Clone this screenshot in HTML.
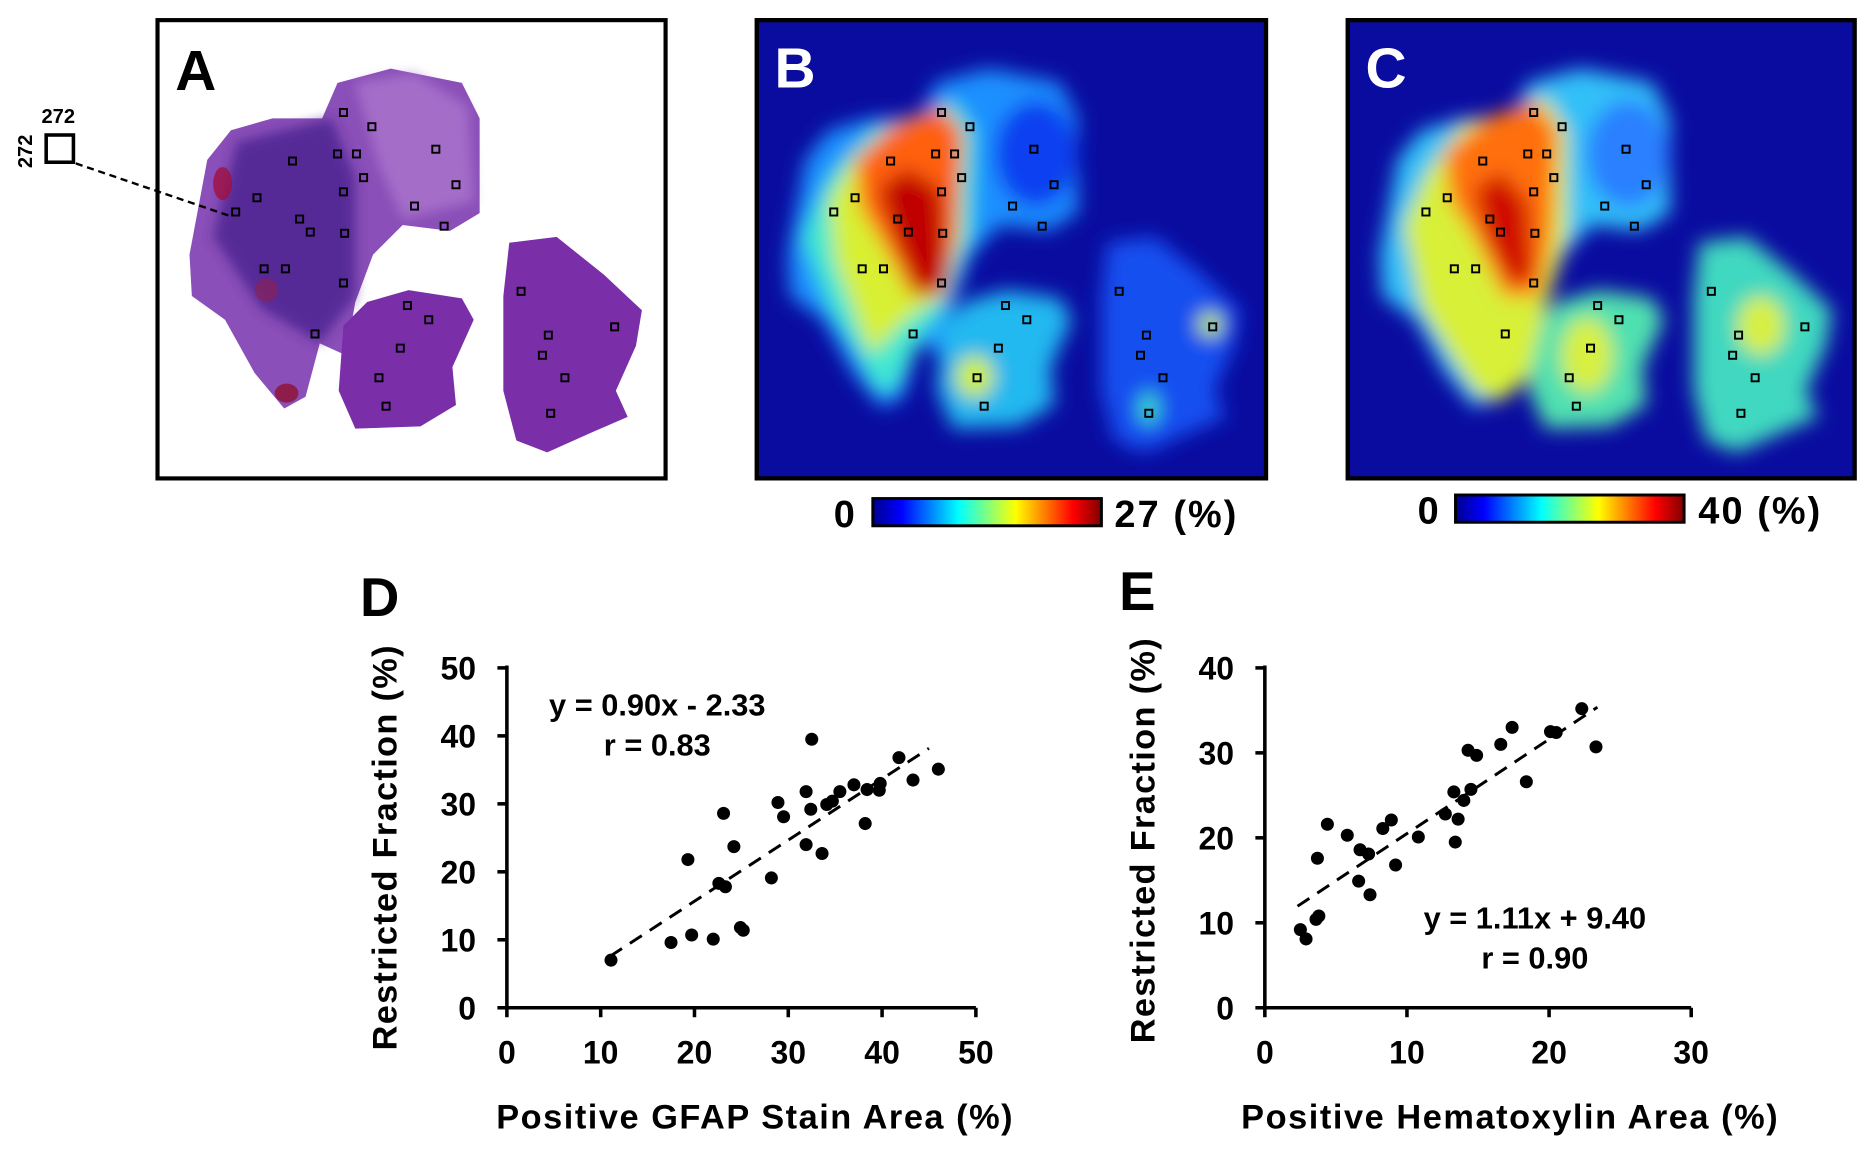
<!DOCTYPE html>
<html><head><meta charset="utf-8"><style>
html,body{margin:0;padding:0;background:#fff;}
svg{display:block;}
text{font-family:"Liberation Sans",Arial,sans-serif;font-weight:bold;}
</style></head><body>
<svg id="fig" width="1857" height="1161" viewBox="0 0 1568 980.4" preserveAspectRatio="none" xmlns="http://www.w3.org/2000/svg">
<defs>
<filter id="bl" x="-30%" y="-30%" width="160%" height="160%"><feGaussianBlur stdDeviation="8"/></filter>
<filter id="bl2" x="-30%" y="-30%" width="160%" height="160%"><feGaussianBlur stdDeviation="5"/></filter>
<linearGradient id="jet" x1="0" x2="1" y1="0" y2="0">
<stop offset="0" stop-color="#00008f"/><stop offset="0.125" stop-color="#0000ff"/><stop offset="0.375" stop-color="#00ffff"/><stop offset="0.625" stop-color="#ffff00"/><stop offset="0.875" stop-color="#ff0000"/><stop offset="1" stop-color="#800000"/>
</linearGradient>
<clipPath id="cB"><rect x="641" y="19" width="426" height="383"/></clipPath>
<clipPath id="cC"><rect x="1140" y="19" width="424" height="383"/></clipPath>
<g id="t1"><polygon points="160,215 175,135 195,110 230,100 272,100 285,70 330,58 350,62 390,70 405,100 405,180 380,195 340,190 315,215 300,255 292,300 270,290 258,335 240,345 215,315 190,270 162,250"/></g>
<g id="t2"><polygon points="290,275 310,255 345,245 390,252 400,270 382,310 385,342 355,360 300,362 286,330"/></g>
<g id="t3"><polygon points="430,205 470,200 510,232 542,262 537,292 520,330 530,352 500,365 462,382 436,372 425,330 425,250"/></g>
</defs>

<!-- Panel A -->
<g>
<rect x="133" y="17" width="429" height="387" fill="#fff" stroke="#000" stroke-width="3.5"/>
<g fill="#8a4fb8">
<use href="#t1"/><use href="#t2" fill="#7a2fa8"/><use href="#t3" fill="#7a2fa8"/>
</g>
<polygon points="200,120 280,100 300,150 300,250 270,290 220,260 180,200" fill="#4a2090" opacity="0.8" filter="url(#bl2)"/>
<polygon points="300,70 350,62 395,90 400,170 340,185 320,140" fill="#b07ad0" opacity="0.7" filter="url(#bl2)"/>
<ellipse cx="188" cy="155" rx="8" ry="14" fill="#a01040" opacity="0.8"/>
<ellipse cx="242" cy="332" rx="10" ry="8" fill="#901030" opacity="0.8"/>
<ellipse cx="225" cy="245" rx="10" ry="10" fill="#902050" opacity="0.6"/>
<text x="148" y="76" font-size="48" fill="#000">A</text>
<text x="35" y="104" font-size="17" fill="#000">272</text>
<text x="0" y="0" font-size="17" fill="#000" transform="translate(27,142) rotate(-90)">272</text>
<rect x="39" y="114" width="23" height="23" fill="none" stroke="#000" stroke-width="3"/>
<line x1="64" y1="138" x2="196" y2="183" stroke="#000" stroke-width="2" stroke-dasharray="6,4"/>
<g id="mA"></g>
</g>

<!-- Panel B -->
<g>
<rect x="639" y="17" width="430" height="387" fill="#0a0ca0" stroke="#000" stroke-width="3.5"/>
<g clip-path="url(#cB)">
<g transform="translate(505,0)" filter="url(#bl)">
<use href="#t1" fill="#1e90ff"/><use href="#t2" fill="#20b8f0"/><use href="#t3" fill="#1450f0"/>
<polygon points="172,200 195,150 230,110 275,95 300,85 318,110 315,200 295,255 270,290 250,330 235,330 220,300 195,260" fill="#40e8d0"/>
<polygon points="195,170 215,135 245,110 285,95 305,110 305,200 290,250 260,270 230,300 215,260 200,220" fill="#d8f030"/>
<polygon points="218,135 250,105 290,90 308,112 303,200 293,250 265,250 240,205 222,175" fill="#ff6010"/>
<polygon points="237,160 260,142 290,160 295,240 270,250 250,200" fill="#c00000"/>
<ellipse cx="318" cy="318" rx="16" ry="18" fill="#d0f030"/>
<ellipse cx="517" cy="274" rx="10" ry="10" fill="#c0f040"/>
<ellipse cx="465" cy="345" rx="8" ry="14" fill="#40e0c0"/>
<ellipse cx="370" cy="130" rx="35" ry="45" fill="#1040f0"/>
</g></g>
<rect x="639" y="17" width="430" height="387" fill="none" stroke="#000" stroke-width="3.5"/>
<text x="654" y="74" font-size="48" fill="#fff">B</text>
<g id="mB"></g>
</g>

<!-- Panel C -->
<g>
<rect x="1138" y="17" width="428" height="387" fill="#0a0ca0" stroke="#000" stroke-width="3.5"/>
<g clip-path="url(#cC)">
<g transform="translate(1005,0)" filter="url(#bl)">
<use href="#t1" fill="#30c0f8"/><use href="#t2" fill="#50e0b0"/><use href="#t3" fill="#40d8c0"/>
<polygon points="180,190 200,145 230,105 275,92 300,82 318,110 318,200 300,260 285,320 260,340 240,330 220,300 195,260" fill="#d8f038"/>
<polygon points="215,130 250,100 290,85 310,110 305,200 295,250 265,250 240,200 220,170" fill="#ff7010"/>
<polygon points="240,160 262,145 285,170 290,235 270,240 250,200" fill="#d01000"/>
<ellipse cx="335" cy="300" rx="22" ry="32" fill="#d8f040"/>
<ellipse cx="482" cy="275" rx="20" ry="25" fill="#d8f040"/>
<ellipse cx="370" cy="130" rx="35" ry="45" fill="#2a80ff"/>
</g></g>
<rect x="1138" y="17" width="428" height="387" fill="none" stroke="#000" stroke-width="3.5"/>
<text x="1153" y="74" font-size="48" fill="#fff">C</text>
<g id="mC"></g>
</g>

<!-- Colorbars -->
<g>
<rect x="737" y="421" width="193" height="23" fill="url(#jet)" stroke="#000" stroke-width="2.5"/>
<text x="704" y="445" font-size="32" fill="#000">0</text>
<text x="941" y="445" font-size="32" textLength="103" fill="#000">27 (%)</text>
</g>
<g>
<rect x="1229" y="418" width="193" height="23" fill="url(#jet)" stroke="#000" stroke-width="2.5"/>
<text x="1197" y="442" font-size="32" fill="#000">0</text>
<text x="1434" y="442" font-size="32" textLength="103" fill="#000">40 (%)</text>
</g>

<text x="304" y="520" font-size="46" fill="#000">D</text>
<text x="945" y="515" font-size="46" fill="#000">E</text>
<g id="chartD"></g>
<g id="chartE"></g>
</svg>
<script>
const NS="http://www.w3.org/2000/svg";
// Chart D data
const dX=[11.1,17.5,19.7,22.0,19.3,23.1,22.6,23.3,24.2,24.9,25.2,28.2,28.9,29.5,31.9,32.5,32.4,31.9,33.6,34.1,34.7,35.5,37.0,38.2,38.4,39.8,39.7,41.8,43.3,46.0];
const dY=[7.0,9.6,10.7,10.1,21.8,28.6,18.3,17.8,23.7,11.8,11.4,19.1,30.2,28.1,31.8,39.5,29.2,24.0,22.7,29.9,30.4,31.8,32.8,27.1,32.1,33.0,32.0,36.8,33.5,35.1];
const dTicksX=[0,10,20,30,40,50];
const dTicksY=[0,10,20,30,40,50];
const dFit=[0.90,-2.33];
const dFitRange=[11,45];
// Chart E data
const eX=[2.5,2.9,3.6,3.8,3.7,4.4,5.8,6.7,7.3,6.6,7.4,8.3,8.9,9.2,10.8,12.7,13.6,13.3,13.4,14.0,14.3,14.9,14.5,16.6,17.4,18.4,20.1,20.5,22.3,23.3];
const eY=[9.2,8.1,10.4,10.8,17.6,21.6,20.3,18.6,18.1,14.9,13.3,21.1,22.1,16.8,20.1,22.8,22.2,25.4,19.5,24.4,30.3,29.7,25.7,31.0,33.0,26.6,32.5,32.4,35.2,30.7];
const eTicksX=[0,10,20,30];
const eTicksY=[0,10,20,30,40];
const eFit=[1.11,9.40];
const eFitRange=[2.3,23.4];
// panel markers (shared positions relative to panel A)
const mkX=[290,314,368,247,285,301,307,290,385,350,217,199,253,262,291,375,223,241,290,266,344,362,338,320,326,440,463,458,477,519,465];
const mkY=[95,107,126,136,130,130,150,162,156,174,167,179,185,196,197,191,227,227,239,282,258,270,294,319,343,246,283,300,319,276,349];

function mk(tag,attrs,parent){const e=document.createElementNS(NS,tag);for(const k in attrs)e.setAttribute(k,attrs[k]);parent.appendChild(e);return e;}
[['mA',0,'#000'],['mB',505,'#000'],['mC',1005,'#000']].forEach(([id,off,col])=>{
  const g=document.getElementById(id);
  for(let i=0;i<mkX.length;i++){
    const r=mk('rect',{x:mkX[i]+off-3,y:mkY[i]-3,width:6,height:6,fill:'none',stroke:col,'stroke-width':1.6},g);
    
    
  }
});

function chart(id,xs,ys,tx,ty,fit,fr,box,xTitle,xtPos,eq,eqPos){
  const g=document.getElementById(id);
  const xmax=tx[tx.length-1], ymax=ty[ty.length-1];
  const sx=v=>box.x0+(box.x1-box.x0)*v/xmax;
  const sy=v=>box.y0-(box.y0-box.y1)*v/ymax;
  const ax=mk('path',{d:`M${box.x0},${box.y1-2} V${box.y0} H${box.x1}`,fill:'none',stroke:'#000','stroke-width':3},g);
  
  
  tx.forEach(t=>{
    mk('line',{x1:sx(t),x2:sx(t),y1:box.y0,y2:box.y0+8,stroke:'#000','stroke-width':3},g);
    const l=mk('text',{x:sx(t),y:box.y0+47,'font-size':27,'text-anchor':'middle'},g);l.textContent=t;
    
    
  });
  ty.forEach(t=>{
    mk('line',{x1:box.x0-8,x2:box.x0,y1:sy(t),y2:sy(t),stroke:'#000','stroke-width':3},g);
    const l=mk('text',{x:box.x0-26,y:sy(t)+10,'font-size':27,'text-anchor':'end'},g);l.textContent=t;
    
    
  });
  const fl=mk('line',{x1:sx(fr[0]),y1:sy(fit[0]*fr[0]+fit[1]),x2:sx(fr[1]),y2:sy(fit[0]*fr[1]+fit[1]),stroke:'#000','stroke-width':2.5,'stroke-dasharray':'12,8'},g);
  
  
  for(let i=0;i<xs.length;i++){
    const c=mk('circle',{cx:sx(xs[i]),cy:sy(ys[i]),r:5.5,fill:'#000'},g);
    
    
  }
  const xt=mk('text',{x:xtPos[0],y:box.y0+102,'font-size':29,textLength:xtPos[1]},g);xt.textContent=xTitle;
  
  
  const yt=mk('text',{x:0,y:0,'font-size':29,textLength:box.ytl,transform:`translate(${box.x0-93},${box.yts}) rotate(-90)`},g);yt.textContent='Restricted Fraction (%)';
  
  
  const e1=mk('text',{x:eqPos[0],y:eqPos[1],'font-size':26,'text-anchor':'middle'},g);e1.textContent=eq[0];
  
  
  const e2=mk('text',{x:eqPos[0],y:eqPos[1]+34,'font-size':26,'text-anchor':'middle'},g);e2.textContent=eq[1];
  
  
}
chart('chartD',dX,dY,dTicksX,dTicksY,dFit,dFitRange,{x0:428,x1:824,y0:851,y1:564,ytl:342,yts:887},'Positive GFAP Stain Area (%)',[419,436],['y = 0.90x - 2.33','r = 0.83'],[555,604]);
chart('chartE',eX,eY,eTicksX,eTicksY,eFit,eFitRange,{x0:1068,x1:1428,y0:851,y1:564,ytl:342,yts:881},'Positive Hematoxylin Area (%)',[1048,453],['y = 1.11x + 9.40','r = 0.90'],[1296,784]);
</script>
</body></html>
